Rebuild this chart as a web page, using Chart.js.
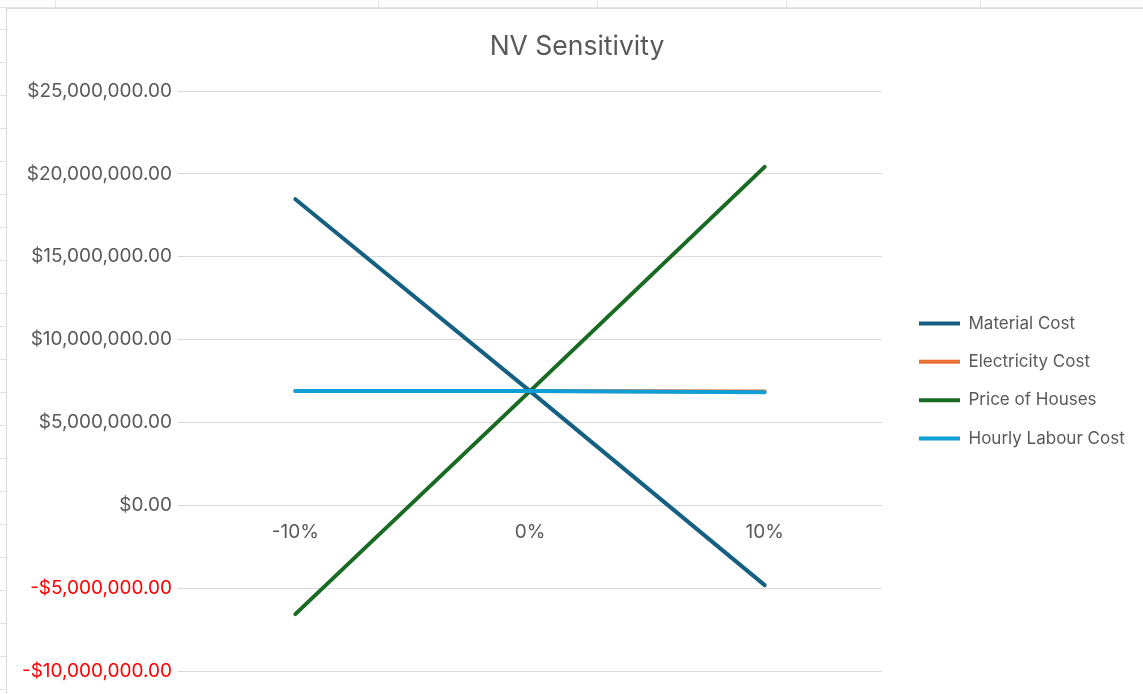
<!DOCTYPE html>
<html>
<head>
<meta charset="utf-8">
<title>NV Sensitivity</title>
<script src="https://cdn.jsdelivr.net/npm/chart.js@4.4.1/dist/chart.umd.min.js"></script>
<style>
  html, body { margin: 0; padding: 0; width: 1143px; height: 694px; overflow: hidden; background: #fff; }
  /* worksheet cells behind the chart object */
  .rows { position: absolute; left: 0; top: 0; width: 1143px; height: 694px;
          background-image: repeating-linear-gradient(to bottom, transparent 0 29px, #e3e3e3 29px 30px, transparent 30px 33px); }
  .col { position: absolute; top: 0; width: 1px; height: 10px; background: #e3e3e3; }
  .colhead { position: absolute; left: 0; top: 7px; width: 1143px; height: 1px; background: #e3e3e3; }
  #box { position: absolute; left: 6px; top: 8px; width: 1140px; height: 690px;
         border: 1px solid #d9d9d9; background: #fff; }
</style>
</head>
<body>
<div class="rows"></div>
<div class="colhead"></div>
<div class="col" style="left:55px"></div>
<div class="col" style="left:378px"></div>
<div class="col" style="left:597px"></div>
<div class="col" style="left:786px"></div>
<div class="col" style="left:980px"></div>
<div id="box"><canvas id="chart"></canvas></div>
<script>
// Sensitivity of the net value to a ±10% change in each input
const categories = ['-10%', '0%', '10%'];
const materialCost = [18470000, 6890000, -4820000];
const electricityCost = [6900000, 6890000, 6860000];
const priceOfHouses = [-6570000, 6890000, 20420000];
const hourlyLabourCost = [6900000, 6890000, 6820000];
const yTicks = { min: -10000000, max: 25000000, step: 5000000 };

const FONT = "Inter, Roboto, 'Liberation Sans', sans-serif";
const GREY = '#595959';

const money = new Intl.NumberFormat('en-US', { minimumFractionDigits: 2, maximumFractionDigits: 2 });
const fmtMoney = v => (v < 0 ? '-$' : '$') + money.format(Math.abs(v));

// Fixed legend column to the right of the plot
const LEGEND_WIDTH = 265;
const LEGEND_X = 912;
const legendFrame = {
  id: 'legendFrame',
  beforeUpdate(chart) {
    const lg = chart.legend;
    if (lg && !lg.$fixedWidth) {
      const fit = lg.fit;
      lg.fit = function () { fit.call(this); this.width = LEGEND_WIDTH; };
      lg.$fixedWidth = true;
    }
  },
  afterLayout(chart) {
    const lg = chart.legend;
    if (!lg) return;
    const dx = LEGEND_X - (lg.left + lg.options.labels.padding);
    lg.left += dx;
    lg.right += dx;
  }
};

function series(label, data, color, order) {
  return {
    label, data, order,
    borderColor: color,
    backgroundColor: color,
    borderWidth: 4,
    borderCapStyle: 'round',
    borderJoinStyle: 'round',
    pointRadius: 0,
    pointHoverRadius: 0,
    tension: 0,
    fill: false
  };
}

new Chart(document.getElementById('chart'), {
  type: 'line',
  data: {
    labels: categories,
    datasets: [
      series('Material Cost', materialCost, '#156082', 4),
      series('Electricity Cost', electricityCost, '#E97132', 3),
      series('Price of Houses', priceOfHouses, '#196B24', 2),
      series('Hourly Labour Cost', hourlyLabourCost, '#0F9ED5', 1)
    ]
  },
  options: {
    responsive: true,
    maintainAspectRatio: false,
    animation: false,
    layout: { padding: { left: 0, right: 0, top: 0, bottom: 28 } },
    plugins: {
      title: {
        display: true,
        text: 'NV Sensitivity',
        color: GREY,
        font: { family: FONT, size: 26.5, weight: 'normal', lineHeight: 1.2 },
        padding: { top: 22, bottom: 28.2 }
      },
      legend: {
        display: true,
        position: 'right',
        fullSize: false,
        align: 'center',
        labels: {
          color: GREY,
          font: { family: FONT, size: 17 },
          usePointStyle: true,
          pointStyleWidth: 41,
          pointStyle: 'line',
          padding: 21.3,
          sort: (a, b) => a.datasetIndex - b.datasetIndex
        }
      },
      tooltip: { enabled: false }
    },
    scales: {
      x: {
        type: 'category',
        position: { y: 0 },
        offset: true,
        grid: { display: false, drawTicks: false },
        border: { display: false },
        ticks: { color: GREY, font: { family: FONT, size: 19 }, padding: 15.3 }
      },
      y: {
        min: yTicks.min,
        max: yTicks.max,
        grid: { color: '#D9D9D9', lineWidth: 1, drawTicks: false },
        border: { display: false },
        ticks: {
          stepSize: yTicks.step,
          padding: 6,
          color: ctx => (ctx.tick && ctx.tick.value < 0 ? '#FF0000' : GREY),
          font: { family: FONT, size: 19 },
          callback: v => fmtMoney(v)
        },
        afterFit(scale) { scale.width = 171; }
      }
    }
  },
  plugins: [legendFrame]
});
</script>
</body>
</html>
